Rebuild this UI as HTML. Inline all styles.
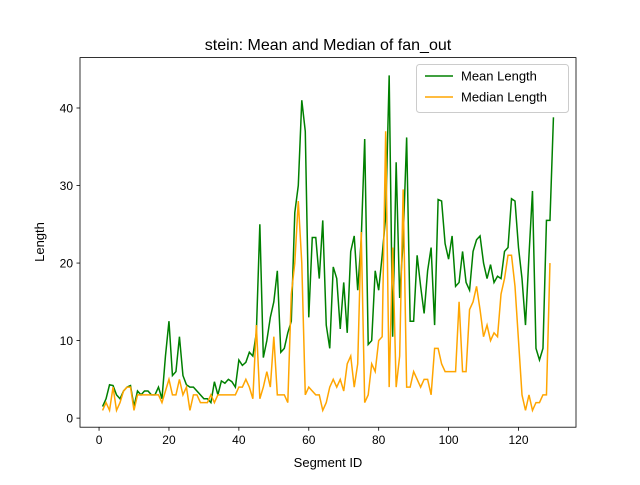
<!DOCTYPE html>
<html><head><meta charset="utf-8"><style>
body{margin:0;background:#fff}
svg text{font-family:"Liberation Sans","DejaVu Sans",sans-serif}
</style></head><body>
<svg id="chart" width="640" height="480">
<rect width="640" height="480" fill="#fff"/>
<text x="328" y="50" font-size="16" text-anchor="middle">stein: Mean and Median of fan_out</text>
<polyline id="mean" fill="none" stroke="green" stroke-width="1.5"/>
<polyline id="median" fill="none" stroke="orange" stroke-width="1.5"/>
<rect x="80" y="57.6" width="496" height="369.6" fill="none" stroke="#000" stroke-width="0.8"/>
<g id="axes"></g>
<text x="328" y="467" font-size="13" text-anchor="middle">Segment ID</text>
<text x="44" y="242" font-size="13" text-anchor="middle" transform="rotate(-90 44 242)">Length</text>
<g>
<rect x="416.5" y="64.5" width="152" height="48" rx="3" fill="#fff" stroke="#ccc" stroke-width="1"/>
<g>
<line x1="425" y1="76" x2="453" y2="76" stroke="green" stroke-width="1.5"/>
<text x="461" y="80.5" font-size="13">Mean Length</text></g>
<g>
<line x1="425" y1="97" x2="453" y2="97" stroke="orange" stroke-width="1.5"/>
<text x="461" y="101.5" font-size="13">Median Length</text></g>
</g>
</svg>
<script>
const meanVals=[1.5,2.5,4.3,4.2,3,2.5,3.5,4,4.2,1.5,3.5,3,3.5,3.5,3,3,4,2.5,8,12.5,5.5,6,10.5,5.5,4.3,4,4,3.5,3,2.5,2.5,2,4.7,3,4.8,4.5,5,4.7,4,7.5,6.8,7.2,8.5,8,11,25,7.8,10,13,15,19,8.5,9,11,12.5,26.5,30,41,37,13,23.3,23.3,18,25.5,12,9,19.5,18,11.5,17.5,11,21.5,23.5,16.5,23,36,9.5,10,19,16.5,21,26,44.2,10.5,33,15.5,23,36.2,12.5,12.5,21,17,13.5,19,22,12,28.2,28,22.5,20.5,23.5,17,17.5,21.5,17.5,16.5,21.5,23,23.5,20,18,19.8,17.5,18.3,18,21.5,22,28.3,28,22,18,12,21,29.3,9,7.5,9,25.5,25.5,38.8];
const medianVals=[1,2,1,4,1,2,3.5,4,4,1,3,3,3,3,3,3,3,2,3.5,5,3,3,5,3,4,1,3,3,2,2,2,3,2,3,3,3,3,3,3,4,4,5,4,2.5,12,2.5,4,6,4,10.5,3,3,3,2,16,20,28,20,3,4,3.5,3,3,1,2,4,5,4,5,3.5,7,8,4,7,24,2,3,7,6,10,10.5,37,4,22,4,8,29.5,4,4,6,5,4,5,5,3,9,9,7,6,6,6,6,15,6,6,14,15,17,14,10.5,12,10,11,10.5,16,18,21,21,17,10,3,1,3,1,2,2,3,3,20];
const xTicks=[0,20,40,60,80,100,120];
const yTicks=[0,10,20,30,40];
const X0=80,X1=576,Y0=427.2,Y1=57.6;
const xmin=-5.45,xmax=136.45,ymin=-1.17,ymax=46.5;
function sx(v){return X0+(v-xmin)/(xmax-xmin)*(X1-X0);}
function sy(v){return Y0-(v-ymin)/(ymax-ymin)*(Y0-Y1);}
function pts(a){return a.map((v,i)=>sx(i+1).toFixed(2)+','+sy(v).toFixed(2)).join(' ');}
document.getElementById('mean').setAttribute('points',pts(meanVals));
document.getElementById('median').setAttribute('points',pts(medianVals));
const ns='http://www.w3.org/2000/svg',ax=document.getElementById('axes');
xTicks.forEach(t=>{
 const l=document.createElementNS(ns,'line');
 l.setAttribute('x1',sx(t));l.setAttribute('x2',sx(t));l.setAttribute('y1',Y0);l.setAttribute('y2',Y0+3.5);
 l.setAttribute('stroke','#000');l.setAttribute('stroke-width','0.8');
 
 
 ax.appendChild(l);
 const tx=document.createElementNS(ns,'text');
 tx.setAttribute('x',sx(t));tx.setAttribute('y',Y0+17);tx.setAttribute('font-size','12');tx.setAttribute('text-anchor','middle');
 tx.textContent=t;
 
 
 ax.appendChild(tx);
});
yTicks.forEach(t=>{
 const l=document.createElementNS(ns,'line');
 l.setAttribute('x1',X0-3.5);l.setAttribute('x2',X0);l.setAttribute('y1',sy(t));l.setAttribute('y2',sy(t));
 l.setAttribute('stroke','#000');l.setAttribute('stroke-width','0.8');
 
 
 ax.appendChild(l);
 const tx=document.createElementNS(ns,'text');
 tx.setAttribute('x',X0-7);tx.setAttribute('y',sy(t)+4.5);tx.setAttribute('font-size','12');tx.setAttribute('text-anchor','end');
 tx.textContent=t;
 
 
 ax.appendChild(tx);
});
</script>
</body></html>
